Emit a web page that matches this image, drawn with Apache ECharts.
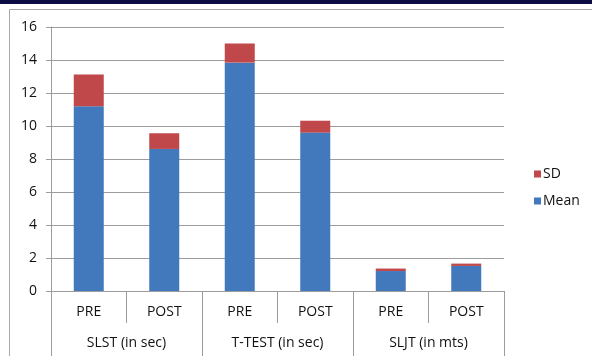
<!DOCTYPE html>
<html>
<head>
<meta charset="utf-8">
<style>
  html, body { margin: 0; padding: 0; background: #ffffff; }
  #chart { width: 592px; height: 356px; }
</style>
<script src="https://cdn.jsdelivr.net/npm/echarts@6/dist/echarts.min.js"></script>
</head>
<body>
<div id="chart"></div>
<script>
// Test phases, one per bar
const phases = ['PRE', 'POST', 'PRE', 'POST', 'PRE', 'POST'];
// Test groups, each spanning a PRE/POST pair
const tests = ['SLST (in sec)', 'T-TEST (in sec)', 'SLJT (in mts)'];
// Mean values (bottom segment)
const meanValues = [11.19, 8.61, 13.84, 9.6, 1.21, 1.52];
// Standard deviation (stacked on top of the mean)
const sdValues = [1.93, 0.95, 1.16, 0.72, 0.15, 0.14];
// Value axis ticks
const yTicks = [0, 2, 4, 6, 8, 10, 12, 14, 16];

const FONT = '"Open Sans", sans-serif';
const GRID_GRAY = '#9c9c9c';
const TEXT = '#111111';
const FS = 14;

const chart = echarts.init(document.getElementById('chart'), null, { renderer: 'canvas' });

chart.setOption({
  animation: false,
  backgroundColor: '#ffffff',
  textStyle: { fontFamily: FONT },
  graphic: [
    // dark header strip
    { type: 'rect', shape: { x: 0, y: 0, width: 592, height: 4 }, style: { fill: '#0c0c42' }, z: 100 },
    // chart frame
    { type: 'rect', shape: { x: 9.5, y: 9.5, width: 700, height: 500 },
      style: { fill: 'none', stroke: '#a8a8a8', lineWidth: 1 }, z: 100 }
  ],
  legend: {
    data: ['SD', 'Mean'],
    orient: 'vertical',
    left: 529,
    top: 162,
    itemWidth: 7,
    itemHeight: 7,
    itemGap: 13,
    icon: 'rect',
    textStyle: { fontFamily: FONT, fontSize: FS, color: TEXT, padding: [0, 0, 0, -3] }
  },
  grid: { left: 51, right: 88, top: 27, bottom: 65, containLabel: false },
  xAxis: [
    {
      type: 'category',
      data: phases,
      position: 'bottom',
      axisLine: { show: true, lineStyle: { color: GRID_GRAY, width: 1 } },
      axisTick: { show: true, interval: 0, length: 32, lineStyle: { color: GRID_GRAY } },
      axisLabel: { interval: 0, margin: 14, fontSize: FS, color: TEXT, fontFamily: FONT }
    },
    {
      type: 'category',
      data: tests,
      position: 'bottom',
      axisLine: { show: false },
      axisTick: { show: true, interval: 0, length: 70, lineStyle: { color: GRID_GRAY } },
      axisLabel: { interval: 0, margin: 45, fontSize: FS, color: TEXT, fontFamily: FONT }
    }
  ],
  yAxis: {
    type: 'value',
    min: yTicks[0],
    max: yTicks[yTicks.length - 1],
    interval: 2,
    axisLine: { show: true, lineStyle: { color: GRID_GRAY, width: 1 } },
    axisTick: { show: true, length: 5, lineStyle: { color: GRID_GRAY } },
    axisLabel: { margin: 14, fontSize: FS, color: TEXT, fontFamily: FONT },
    splitLine: { show: true, lineStyle: { color: GRID_GRAY, width: 1 } }
  },
  series: [
    {
      name: 'Mean',
      type: 'bar',
      stack: 'total',
      xAxisIndex: 0,
      barWidth: 30,
      data: meanValues,
      itemStyle: { color: '#4279bd' }
    },
    {
      name: 'SD',
      type: 'bar',
      stack: 'total',
      xAxisIndex: 0,
      barWidth: 30,
      data: sdValues,
      itemStyle: { color: '#c0474a' }
    }
  ]
});
</script>
</body>
</html>
